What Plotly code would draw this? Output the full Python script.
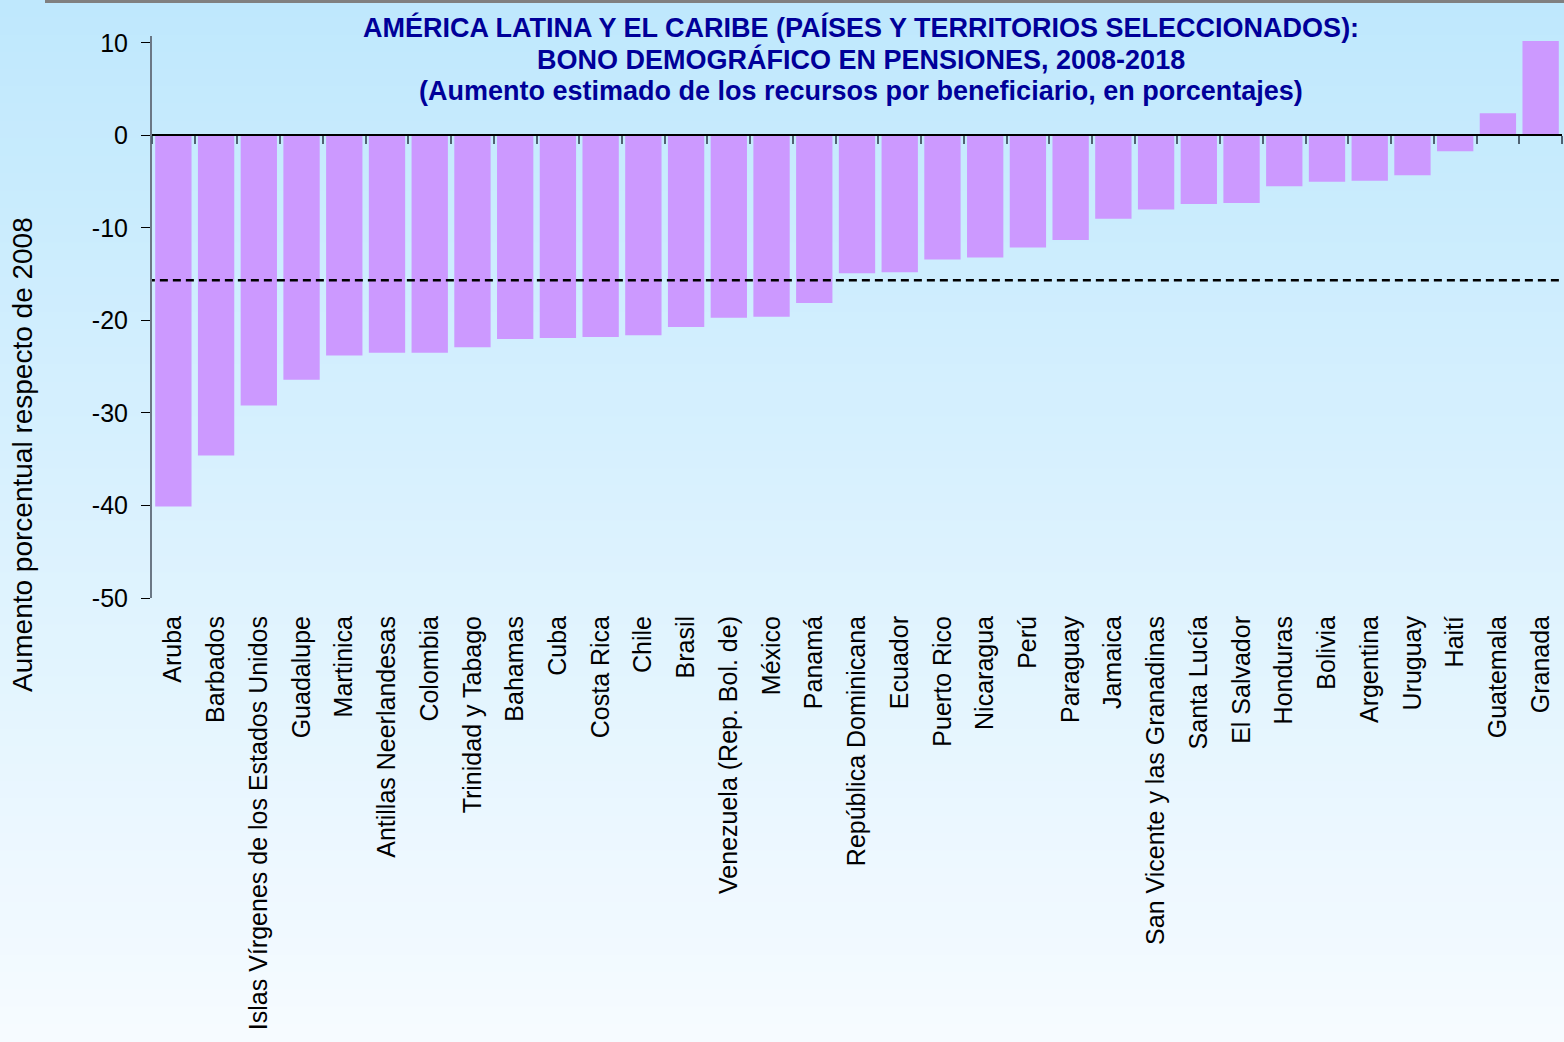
import plotly.graph_objects as go

categories = ["Aruba", "Barbados", "Islas Vírgenes de los Estados Unidos", "Guadalupe", "Martinica",
              "Antillas Neerlandesas", "Colombia", "Trinidad y Tabago", "Bahamas", "Cuba", "Costa Rica",
              "Chile", "Brasil", "Venezuela (Rep. Bol. de)", "México", "Panamá", "República Dominicana",
              "Ecuador", "Puerto Rico", "Nicaragua", "Perú", "Paraguay", "Jamaica",
              "San Vicente y las Granadinas", "Santa Lucía", "El Salvador", "Honduras", "Bolivia",
              "Argentina", "Uruguay", "Haití", "Guatemala", "Granada"]
values = [-40.1, -34.6, -29.2, -26.4, -23.8, -23.5, -23.5, -22.9, -22.0, -21.9, -21.8,
          -21.6, -20.7, -19.7, -19.6, -18.1, -14.9, -14.8, -13.4, -13.2, -12.1, -11.3, -9.0,
          -8.0, -7.4, -7.3, -5.5, -5.0, -4.9, -4.3, -1.7, 2.4, 10.2]
average = -15.65
y_ticks = [10, 0, -10, -20, -30, -40, -50]
y_tick_text = [str(v) for v in y_ticks]
title_lines = ["AMÉRICA LATINA Y EL CARIBE (PAÍSES Y TERRITORIOS SELECCIONADOS):",
               "BONO DEMOGRÁFICO EN PENSIONES, 2008-2018",
               "(Aumento estimado de los recursos por beneficiario, en porcentajes)"]
y_title = "Aumento porcentual respecto de 2008"

W, H = 1564, 1042
ML, MR, MT, MB = 152, 2, 36, 444
y_range = [-50, 10.75]
n = len(categories)

fig = go.Figure()
fig.add_trace(go.Bar(x=categories, y=values, marker_color="#CC99FF", marker_line_width=0,
                     showlegend=False, hoverinfo="x+y"))
fig.add_trace(go.Scatter(x=[-0.62, n - 0.55], y=[average, average], xaxis="x2", mode="lines",
                         line=dict(color="black", width=2.5, dash="8px,5px"), showlegend=False,
                         hoverinfo="skip"))

pw = W - ML - MR
ph = H - MT - MB

# background gradient bands
shapes = []
top_c = (191, 232, 253)
bot_c = (246, 251, 255)
nb = 60
for i in range(nb):
    t = i / (nb - 1)
    c = tuple(int(round(top_c[k] + (bot_c[k] - top_c[k]) * t)) for k in range(3))
    py_top = i * H / nb
    py_bot = (i + 1) * H / nb
    shapes.append(dict(type="rect", xref="paper", yref="paper",
                       x0=-ML / pw - 0.01, x1=1 + MR / pw + 0.01,
                       y0=(H - MB - py_bot) / ph - 0.001, y1=(H - MB - py_top) / ph + 0.001,
                       fillcolor="rgb(%d,%d,%d)" % c, line_width=0, layer="below"))
# top gray rule
shapes.append(dict(type="rect", xref="paper", yref="paper", x0=(45 - ML) / pw, x1=(W - ML) / pw,
                   y0=(H - MB - 3) / ph, y1=(H - MB) / ph + 0.01, fillcolor="#808080",
                   line_width=0, layer="above"))

zero_pos = (0 - y_range[0]) / (y_range[1] - y_range[0])

annotations = []
for j, line in enumerate(title_lines):
    annotations.append(dict(text="<b>%s</b>" % line, xref="paper", yref="paper",
                            x=(861 - ML) / pw, y=(H - MB - (27 + 32 * j)) / ph,
                            xanchor="center", yanchor="middle", showarrow=False,
                            font=dict(size=27, color="#000099")))
annotations.append(dict(text=y_title, xref="paper", yref="paper",
                        x=(22 - ML) / pw, y=(H - MB - 455) / ph, textangle=-90, xanchor="center",
                        yanchor="middle", showarrow=False, font=dict(size=28, color="black")))

fig.update_layout(
    width=W, height=H,
    margin=dict(l=ML, r=MR, t=MT, b=MB, autoexpand=False),
    paper_bgcolor="#F4FAFF", plot_bgcolor="rgba(0,0,0,0)",
    bargap=0.15,
    font=dict(family="Liberation Sans, Arial, sans-serif", color="black"),
    shapes=shapes,
    xaxis=dict(type="category", range=[-0.5, n - 0.5], tickangle=-90, showline=False,
               ticks="", showgrid=False, zeroline=False, tickfont=dict(size=25),
               ticklabelstandoff=12),
    xaxis2=dict(overlaying="x", anchor="free", position=zero_pos, side="bottom",
                range=[-0.5, n - 0.5], showgrid=False, zeroline=False, showline=True,
                linecolor="black", linewidth=2,
                tickmode="array", tickvals=[i - 0.5 for i in range(n + 1)],
                ticks="outside", ticklen=8, tickwidth=2, tickcolor="#4F6272",
                showticklabels=False),
    yaxis=dict(range=y_range, tickmode="array", tickvals=y_ticks, ticktext=y_tick_text,
               ticks="outside", ticklen=9, tickcolor="black",
               tickwidth=1, showline=True, linecolor="#6B7785", linewidth=2, showgrid=False,
               zeroline=False, tickfont=dict(size=25), ticklabelstandoff=8),
    annotations=annotations,
)

fig.write_html("out.html", config={"displayModeBar": False},
               post_script="document.body.style.margin='0';document.body.style.overflow='hidden';")
